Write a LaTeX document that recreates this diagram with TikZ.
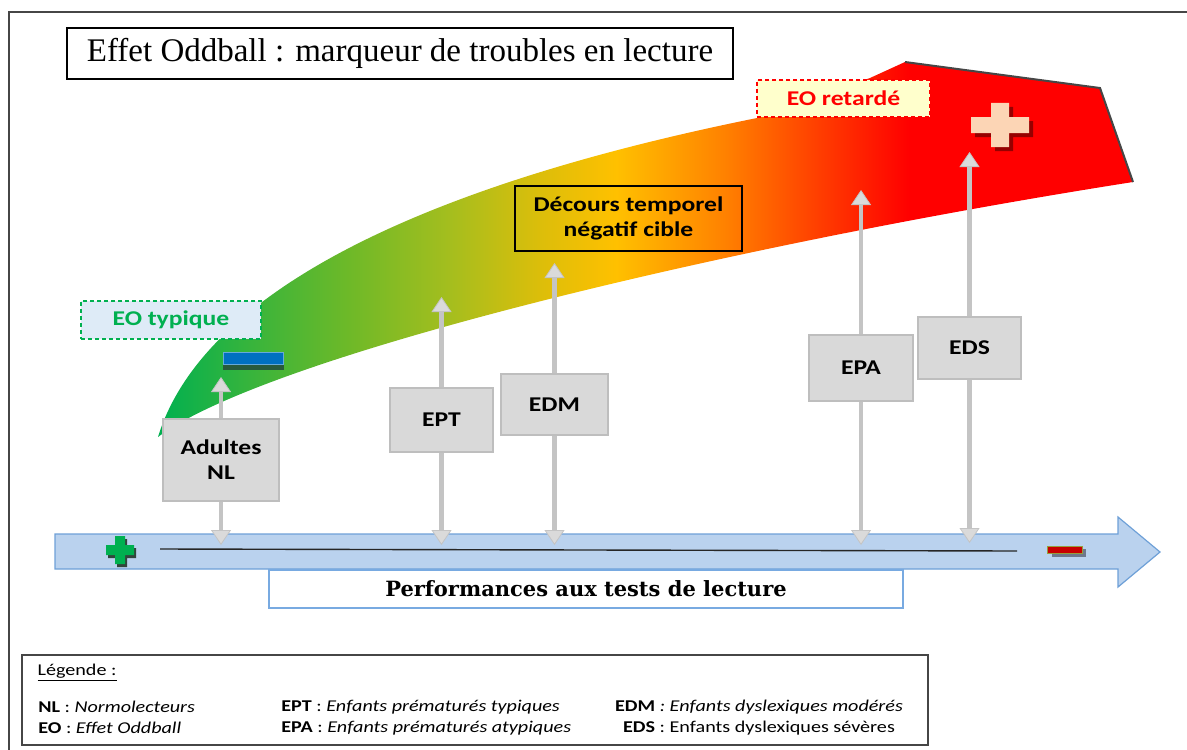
\documentclass[tikz,border=0pt]{standalone}
\usepackage{fontspec}
\setmainfont{Liberation Serif}
\newfontfamily\calibri{Carlito}[FakeStretch=1.22]
\newfontfamily\cambria{DejaVu Serif}
\usetikzlibrary{arrows.meta,positioning}
\definecolor{framegray}{RGB}{70,70,70}
\definecolor{boxfill}{RGB}{217,217,217}
\definecolor{boxline}{RGB}{190,190,190}
\definecolor{arrgray}{RGB}{196,196,196}
\definecolor{arrfill}{RGB}{218,218,218}
\definecolor{bandblue}{RGB}{186,210,238}
\definecolor{bandline}{RGB}{110,160,215}
\definecolor{perfblue}{RGB}{120,170,225}
\definecolor{eogreen}{RGB}{0,176,80}
\definecolor{eogreenb}{RGB}{55,180,60}
\definecolor{eogreenc}{RGB}{110,185,40}
\definecolor{eolime}{RGB}{165,190,30}
\definecolor{eoolive}{RGB}{220,190,10}
\definecolor{eogold}{RGB}{255,192,0}
\definecolor{eoorange}{RGB}{255,130,0}
\definecolor{eoorred}{RGB}{255,60,0}
\definecolor{eored}{RGB}{255,0,0}
\definecolor{typfill}{RGB}{222,235,247}
\definecolor{retfill}{RGB}{255,255,204}
\definecolor{plusfill}{RGB}{252,213,181}
\definecolor{plusshadow}{RGB}{150,0,0}
\definecolor{minusblue}{RGB}{0,112,192}
\definecolor{minusshadow}{RGB}{40,90,60}
\definecolor{minusred}{RGB}{200,0,0}
\definecolor{minusrim}{RGB}{150,160,60}
\definecolor{minusgray}{RGB}{110,120,140}
\definecolor{greenshadow}{RGB}{50,70,60}
\pgfdeclarehorizontalshading{eoband}{100bp}{color(0bp)=(eogreen); color(25bp)=(eogreen); color(29.7bp)=(eogreenb); color(34.8bp)=(eogreenc); color(40bp)=(eolime); color(44.6bp)=(eoolive); color(48.5bp)=(eogold); color(54bp)=(eoorange); color(59bp)=(eoorred); color(63.5bp)=(eored); color(100bp)=(eored)}

\begin{document}
\begin{tikzpicture}[
  x=0.5pt, y=-0.5pt,
  lbl/.style={font=\calibri\bfseries\fontsize{10.5}{12.5}\selectfont, align=center, inner sep=1pt},
  grpbox/.style={lbl, draw=boxline, fill=boxfill, line width=0.6pt},
  tagbox/.style={lbl, line width=0.6pt, dash pattern=on 2pt off 1.5pt},
  garr/.style={draw=arrgray, line width=2.2pt, -{Triangle[width=10pt, length=7.5pt, fill=arrfill, line width=0.4pt]}},
  legtxt/.style={font=\calibri\fontsize{8.25}{10}\selectfont, anchor=west, inner sep=0pt},
]
  \useasboundingbox (0,0) rectangle (1187,749);
  % outer frame
  \draw[framegray, line width=0.8pt] (9,12) rectangle (1200,770);
  % title
  \node[draw=black, line width=0.8pt, minimum width=333pt, minimum height=25.5pt,
        font=\fontsize{16.5}{19}\selectfont] (title) at (400,53.5)
        {Effet Oddball : marqueur de troubles en lecture};

  % coloured band of the oddball effect
  \shade[shading=eoband] (158,437) .. controls (200,300) and (400,190) .. (757,118)
    -- (870,78) -- (905,62) -- (1100,88) -- (1133,182)
    .. controls (700,250) and (260,360) .. (158,437) -- cycle;
  \draw[framegray, line width=1pt] (905,62) -- (1100,88) -- (1133,182);
  % big plus
  \begin{scope}[shift={(1000,125)}]
    \fill[plusshadow, shift={(4,4)}] (-9,-22) -- (9,-22) -- (9,-8) -- (29,-8) -- (29,8) -- (9,8)
      -- (9,22) -- (-9,22) -- (-9,8) -- (-29,8) -- (-29,-8) -- (-9,-8) -- cycle;
    \fill[plusfill] (-9,-22) -- (9,-22) -- (9,-8) -- (29,-8) -- (29,8) -- (9,8)
      -- (9,22) -- (-9,22) -- (-9,8) -- (-29,8) -- (-29,-8) -- (-9,-8) -- cycle;
  \end{scope}
  % blue minus
  \fill[minusshadow] (223,358) rectangle (284,370);
  \fill[minusblue, draw=minusblue!60] (223,352) rectangle (283,364);

  % tags on the band
  \node[tagbox, draw=eogreen, fill=typfill, text=eogreen, minimum width=90pt, minimum height=19pt]
    (typ) at (171,320) {EO typique};
  \node[tagbox, draw=red, fill=retfill, text=red, minimum width=86.5pt, minimum height=18.5pt]
    (ret) at (843.5,98.5) {EO retardé};
  \node[lbl, draw=black, line width=0.7pt, minimum width=113.5pt, minimum height=32.5pt]
    (dec) at (628.5,218.5) {Décours temporel\\négatif cible};

  % reading performance axis
  \fill[bandblue, draw=bandline, line width=0.6pt] (55,534) -- (1118,534) -- (1118,517)
    -- (1160,552) -- (1118,587) -- (1118,569) -- (55,569) -- cycle;
  \draw[black!85, line width=0.7pt] (160,549) -- (1017,551);
  \begin{scope}[shift={(120,550)}]
    \fill[greenshadow, shift={(2,3)}] (-5,-14) -- (5,-14) -- (5,-5) -- (14,-5) -- (14,5) -- (5,5)
      -- (5,14) -- (-5,14) -- (-5,5) -- (-14,5) -- (-14,-5) -- (-5,-5) -- cycle;
    \fill[eogreen] (-5,-14) -- (5,-14) -- (5,-5) -- (14,-5) -- (14,5) -- (5,5)
      -- (5,14) -- (-5,14) -- (-5,5) -- (-14,5) -- (-14,-5) -- (-5,-5) -- cycle;
  \end{scope}
  \fill[minusgray] (1052,549) rectangle (1086,557);
  \fill[minusred, draw=minusrim, line width=0.5pt] (1047,546) rectangle (1082,553);
  \node[draw=perfblue, fill=white, line width=0.6pt, minimum width=317pt, minimum height=19pt,
        font=\cambria\bfseries\fontsize{10.5}{12.5}\selectfont] (perf) at (586,589)
        {Performances aux tests de lecture};

  % groups
  \node[grpbox, minimum width=58pt, minimum height=41pt] (adl) at (221,460) {Adultes\\NL};
  \node[grpbox, minimum width=51.5pt, minimum height=32pt] (ept) at (441.5,420) {EPT};
  \node[grpbox, minimum width=53.5pt, minimum height=30.5pt] (edm) at (554.5,404.5) {EDM};
  \node[grpbox, minimum width=52pt, minimum height=33pt] (epa) at (861,368) {EPA};
  \node[grpbox, minimum width=51.5pt, minimum height=31pt] (eds) at (969.5,348) {EDS};

  % arrow ends
  \coordinate (adlup) at (221,377);
  \coordinate (eptup) at (441.5,297);
  \coordinate (edmup) at (554.5,263);
  \coordinate (epaup) at (861,190);
  \coordinate (edsup) at (969.5,152);
  \coordinate (adldn) at (221,545);
  \coordinate (eptdn) at (441.5,545);
  \coordinate (edmdn) at (554.5,545);
  \coordinate (epadn) at (861,545);
  \coordinate (edsdn) at (969.5,543);

  % arrows
  \draw[garr] (adl.north) -- (adlup);
  \draw[garr] (adl.south) -- (adldn);
  \draw[garr] (ept.north) -- (eptup);
  \draw[garr] (ept.south) -- (eptdn);
  \draw[garr] (edm.north) -- (edmup);
  \draw[garr] (edm.south) -- (edmdn);
  \draw[garr] (epa.north) -- (epaup);
  \draw[garr] (epa.south) -- (epadn);
  \draw[garr] (eds.north) -- (edsup);
  \draw[garr] (eds.south) -- (edsdn);

  % legend
  \node[draw=framegray, line width=0.8pt, minimum width=453pt, minimum height=45pt, inner sep=0pt]
    (legend) at (475,700) {};
  \node[legtxt, below right=4.5pt and 8pt of legend.north west] (legtitle) {\underline{Légende :}};
  \node[legtxt] (legnl) at (38,707) {\textbf{NL} : \textit{Normolecteurs}};
  \node[legtxt] (legeo) at (38,728) {\textbf{EO} : \textit{Effet Oddball}};
  \node[legtxt] (legept) at (281,707) {\textbf{EPT} : \textit{Enfants prématurés typiques}};
  \node[legtxt] (legepa) at (281,728) {\textbf{EPA} : \textit{Enfants prématurés atypiques}};
  \node[legtxt, anchor=center] (legedm) at (759,707) {\textbf{EDM} \textit{: Enfants dyslexiques modérés}};
  \node[legtxt, anchor=center] (legeds) at (759,728) {\textbf{EDS} : Enfants dyslexiques sévères};
\end{tikzpicture}
\end{document}
